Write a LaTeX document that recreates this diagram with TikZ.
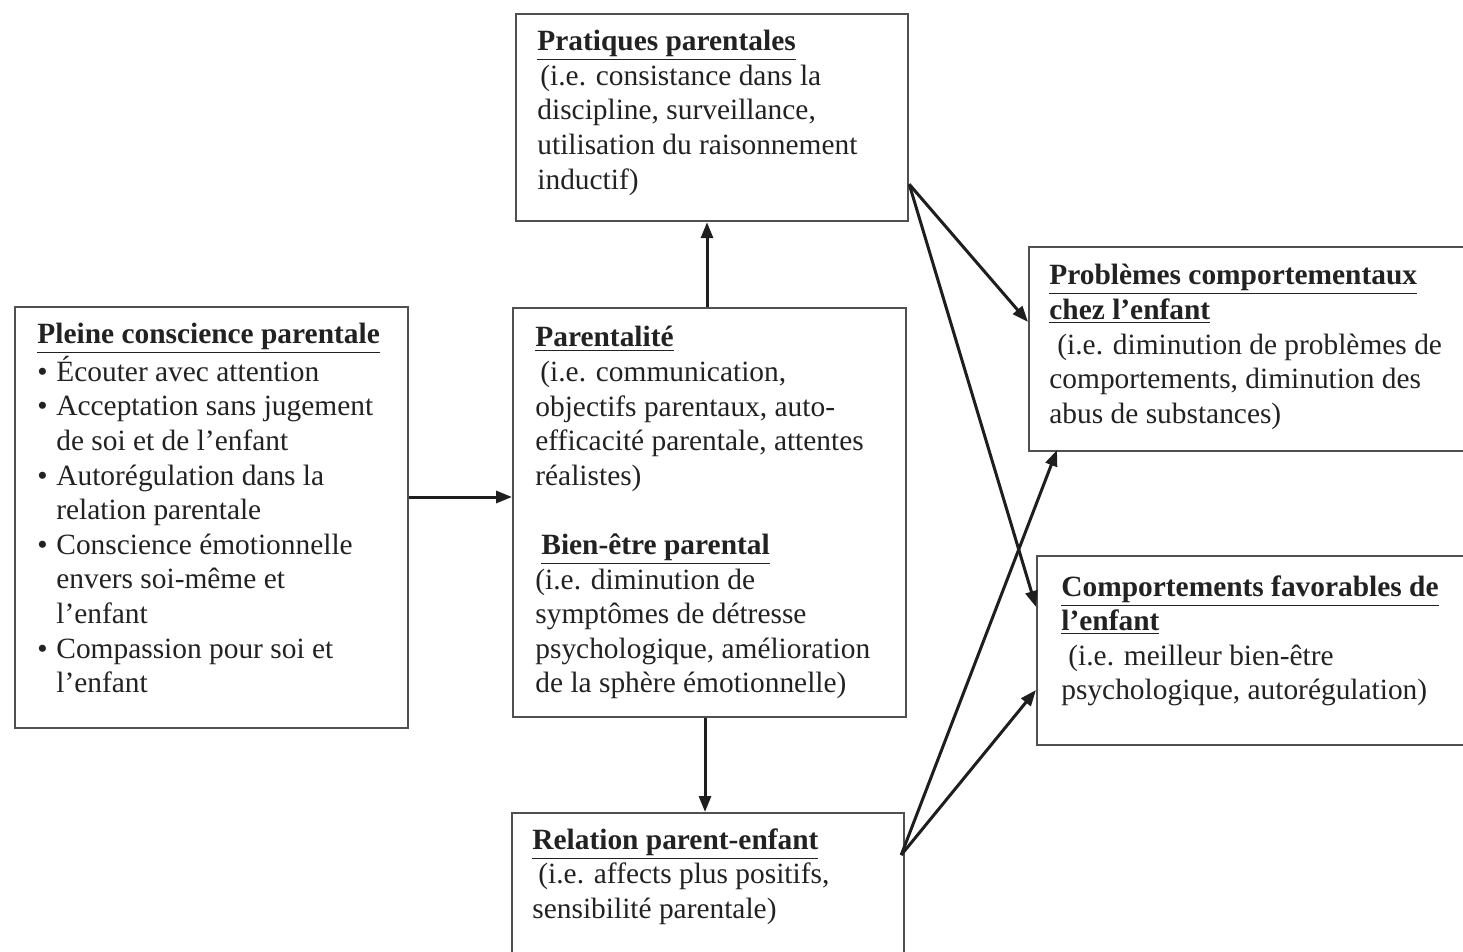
\documentclass[tikz,border=0pt]{standalone}
\usepackage{fontspec}
\setmainfont{Liberation Serif}
\usetikzlibrary{arrows.meta,calc}
\definecolor{boxgray}{HTML}{505050}
\definecolor{arrowgray}{HTML}{1E1E1E}
\definecolor{textgray}{HTML}{222222}
\newcommand{\hd}[1]{\underline{\textbf{#1}}}
\newcommand{\bl}{\makebox[9.5pt][l]{•}}
\newcommand{\ind}{\hspace*{9.5pt}}
\begin{document}
\begin{tikzpicture}[x=0.5pt,y=-0.5pt,
  box/.style={draw=boxgray, line width=1.1pt, inner sep=0pt, anchor=north west},
  txt/.style={inner sep=0pt, anchor=north west, align=left, text=textgray,
    font=\fontsize{14.7}{17.3}\selectfont},
  arr/.style={draw=arrowgray, line width=1.5pt, -{Triangle[length=8pt,width=6pt]}}]
\useasboundingbox (0,0) rectangle (1463,952);
\clip (0,0) rectangle (1463,952);
\fill[white] (0,0) rectangle (1463,952);

% boxes
\node[box, minimum width=196pt, minimum height=103.5pt] (pp) at (515,13) {};
\node[box, minimum width=196.5pt, minimum height=210.5pt] (pl) at (14,306) {};
\node[box, minimum width=196.5pt, minimum height=204.5pt] (par) at (512,307) {};
\node[box, minimum width=196pt, minimum height=80pt] (rel) at (511,812) {};
\node[box, minimum width=222.5pt, minimum height=102pt] (pb) at (1028,246) {};
\node[box, minimum width=220pt, minimum height=94.5pt] (cf) at (1036,555) {};

% texts
\node[txt] (tpp) at (537,30) {\hd{Pratiques parentales}\\
\hspace*{1.5pt}(i.e. consistance dans la\\
discipline, surveillance,\\
utilisation du raisonnement\\
inductif)};

\node[txt] (tpl) at (37,323) {\hd{Pleine conscience parentale}\\
\bl Écouter avec attention\\
\bl Acceptation sans jugement\\
\ind de soi et de l’enfant\\
\bl Autorégulation dans la\\
\ind relation parentale\\
\bl Conscience émotionnelle\\
\ind envers soi-même et\\
\ind l’enfant\\
\bl Compassion pour soi et\\
\ind l’enfant};

\node[txt] (tpar) at (535,326) {\hd{Parentalité}\\
\hspace*{2.5pt}(i.e. communication,\\
objectifs parentaux, auto-\\
efficacité parentale, attentes\\
réalistes)\\[17.3pt]
\hspace*{3pt}\hd{Bien-être parental}\\
(i.e. diminution de\\
symptômes de détresse\\
psychologique, amélioration\\
de la sphère émotionnelle)};

\node[txt] (trel) at (532,828) {\hd{Relation parent-enfant}\\
\hspace*{3pt}(i.e. affects plus positifs,\\
sensibilité parentale)};

\node[txt] (tpb) at (1049,264) {\hd{Problèmes comportementaux}\\
\hd{chez l’enfant}\\
\hspace*{4pt}(i.e. diminution de problèmes de\\
comportements, diminution des\\
abus de substances)};

\node[txt] (tcf) at (1061,575) {\hd{Comportements favorables de}\\
\hd{l’enfant}\\
\hspace*{3.5pt}(i.e. meilleur bien-être\\
psychologique, autorégulation)};

% connector anchor points
\coordinate (ppout) at ($(pp.south east)+(0,-38)$);
\coordinate (relout) at ($(rel.north east)+(-4,43)$);
\coordinate (pbin) at (pb.west |- 0,322);
\coordinate (pbbot) at (1057,450);
\coordinate (cfin1) at (cf.west |- 0,607);
\coordinate (cfin2) at (cf.west |- 0,690);

% connectors
\draw[arr] (pl.east |- 0,497) -- (par.west |- 0,497);
\draw[arr] (par.north -| 707,0) -- (pp.south -| 707,0);
\draw[arr] (par.south -| 705,0) -- (rel.north -| 705,0);
\draw[arr] (ppout) -- (pbin);
\draw[arr] (ppout) -- (cfin1);
\draw[arr] (relout) -- (pbbot);
\draw[arr] (relout) -- (cfin2);
\end{tikzpicture}
\end{document}
